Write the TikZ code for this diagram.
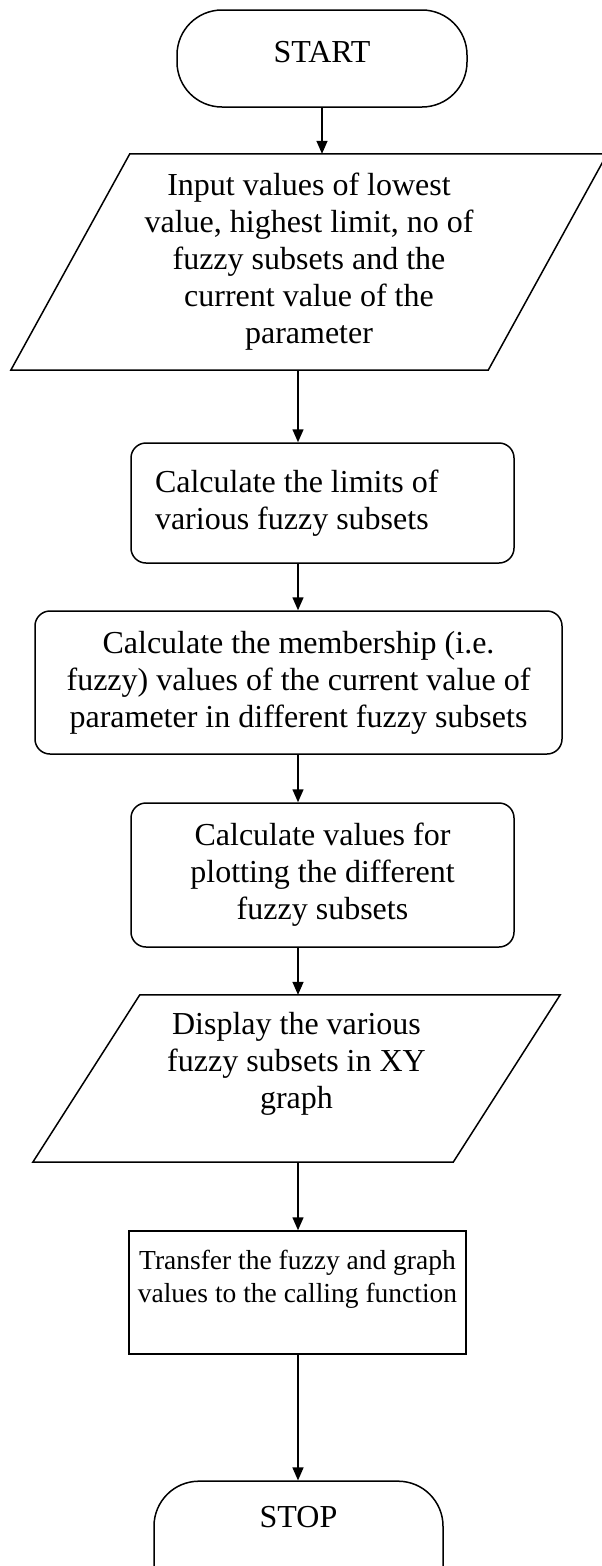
\documentclass[tikz,border=0pt]{standalone}
\usepackage{fontspec}
\setmainfont{Liberation Serif}
\usepackage{tikz}
\usetikzlibrary{arrows.meta,positioning,calc}

\begin{document}
\begin{tikzpicture}[x=1pt, y=-1pt,
    terminal/.style={rectangle, draw, line width=1.5pt, rounded corners=45pt,
                 minimum width=290pt, minimum height=97pt, text depth=13pt},
    process/.style={rectangle, draw, line width=1.5pt, rounded corners=15pt, align=center},
    plainbox/.style={rectangle, draw, line width=1.5pt, align=center},
    io/.style={rectangle, align=center},
    ioline/.style={line width=1.5pt, line join=miter},
    arr/.style={-{Triangle[length=13pt,width=11pt]}, line width=1.5pt},
    font=\fontsize{32}{37}\selectfont
]
    \useasboundingbox (0,0) rectangle (602,1566);
    \clip (0,0) rectangle (602,1566);
    \coordinate (spine) at (298,0);

    \node[terminal] (start) at (322,58.5) {START};
    % input box: slanted sides drawn round the node
    \node[io, minimum width=477pt, minimum height=216pt] (inp) at (309,262)
        {Input values of lowest\\value, highest limit, no of\\fuzzy subsets and the\\current value of the\\parameter};
    \draw[ioline] ([xshift=59.5pt]inp.north west) -- ([xshift=59.5pt]inp.north east)
        -- ([xshift=-59.5pt]inp.south east) -- ([xshift=-59.5pt]inp.south west) -- cycle;
    \node[process, minimum width=383pt, minimum height=120pt, text width=335pt, align=flush left] (lim) at (322.5,503)
        {Calculate the limits of\\various fuzzy subsets};
    \node[process, minimum width=527pt, minimum height=143pt] (memb) at (298.5,682.5)
        {Calculate the membership (i.e.\\fuzzy) values of the current value of\\parameter in different fuzzy subsets};
    \node[process, minimum width=383pt, minimum height=144pt] (plot) at (322.5,875)
        {Calculate values for\\plotting the different\\fuzzy subsets};
    % display box
    \node[io, minimum width=420pt, minimum height=167pt] (disp) at (296.5,1078.5)
        {Display the various\\fuzzy subsets in XY\\graph\\ \mbox{}};
    \draw[ioline] ([xshift=53.5pt]disp.north west) -- ([xshift=53.5pt]disp.north east)
        -- ([xshift=-53.5pt]disp.south east) -- ([xshift=-53.5pt]disp.south west) -- cycle;
    \node[plainbox, minimum width=337pt, minimum height=123pt, font=\fontsize{27.5}{33}\selectfont]
        (trans) at (297.5,1292.5)
        {Transfer the fuzzy and graph\\values to the calling function\\ \mbox{}};
    % stop runs past the lower edge
    \node[terminal, minimum width=289pt, text height=43pt, text depth=126pt] (stop) at (298.5,1569) {STOP};

    \draw[arr] (start.south) -- (start.south |- inp.north);
    \draw[arr] (inp.south -| spine) -- (lim.north -| spine);
    \draw[arr] (lim.south -| spine) -- (memb.north -| spine);
    \draw[arr] (memb.south -| spine) -- (plot.north -| spine);
    \draw[arr] (plot.south -| spine) -- (disp.north -| spine);
    \draw[arr] (disp.south -| spine) -- (trans.north -| spine);
    \draw[arr] (trans.south -| spine) -- (stop.north -| spine);
\end{tikzpicture}
\end{document}
